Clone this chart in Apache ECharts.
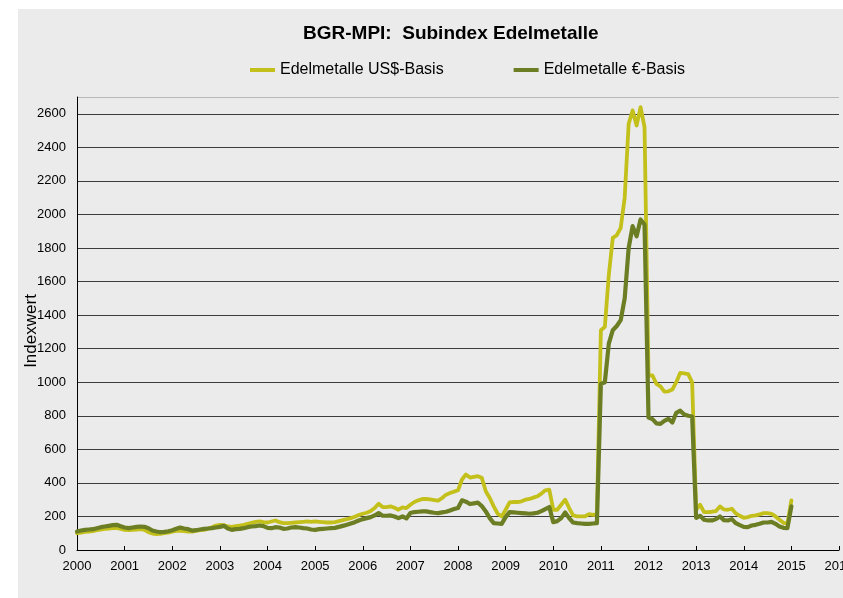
<!DOCTYPE html>
<html>
<head>
<meta charset="utf-8">
<script src="https://cdn.jsdelivr.net/npm/echarts@6/dist/echarts.min.js"></script>
<style>
html,body{margin:0;padding:0;background:#fff;}
#c{width:843px;height:598px;}
</style>
</head>
<body>
<div id="c"></div>
<script>
// Monthly values, Jan 2000 .. Jan 2015
const usd2000 = [100,104,108,110,112,118,122,126,128,130,132,126];
const usd2001 = [120,118,120,122,124,120,106,98,94,96,100,104];
const usd2002 = [110,114,116,112,110,110,114,118,120,126,136,146];
const usd2003 = [150,148,140,138,142,146,150,156,162,168,170,166];
const usd2004 = [164,170,176,166,160,160,162,164,166,168,170,168];
const usd2005 = [170,168,166,164,164,166,172,178,184,190,198,208];
const usd2006 = [216,222,232,250,276,256,256,260,252,240,254,250];
const usd2007 = [270,286,296,304,304,302,298,294,310,330,340,348];
const usd2008 = [356,420,450,432,436,440,430,350,310,260,216,200];
const usd2009 = [240,284,286,286,290,300,304,312,320,336,356,360];
const usd2010 = [240,240,270,300,250,206,200,200,200,214,210,210];
const usd2011 = [1310,1330,1640,1860,1876,1920,2100,2540,2620,2530,2640,2520];
const usd2012 = [1040,1040,990,975,944,946,956,1000,1056,1052,1048,1000];
const usd2013 = [240,270,226,226,228,232,260,242,240,246,218,204];
const usd2014 = [192,196,204,206,212,220,220,216,200,180,162,158];
const usd2015 = [296];

const eur2000 = [110,116,120,122,124,130,136,140,144,148,150,142];
const eur2001 = [134,130,134,138,140,138,130,116,110,106,108,112];
const eur2002 = [118,126,134,128,124,116,118,122,126,128,130,134];
const eur2003 = [138,144,128,120,124,126,130,136,140,142,146,142];
const eur2004 = [132,130,136,134,126,128,134,136,134,130,128,122];
const eur2005 = [120,124,126,128,130,132,138,144,150,158,166,176];
const eur2006 = [184,190,196,206,220,204,204,206,200,190,200,188];
const eur2007 = [220,226,228,230,230,226,222,220,224,228,236,244];
const eur2008 = [250,296,288,274,278,282,262,230,190,160,158,156];
const eur2009 = [196,226,224,222,220,218,216,218,222,232,244,256];
const eur2010 = [166,172,190,224,190,164,160,158,156,156,158,160];
const eur2011 = [990,1000,1230,1310,1335,1370,1500,1800,1930,1870,1970,1940];
const eur2012 = [790,780,755,752,770,782,760,818,830,808,800,796];
const eur2013 = [192,204,180,176,176,184,200,178,176,184,160,148];
const eur2014 = [138,136,146,150,156,164,164,168,156,140,132,130];
const eur2015 = [260];

const years = [2000,2001,2002,2003,2004,2005,2006,2007,2008,2009,2010,2011,2012,2013,2014,2015];
const yTicks = [0,200,400,600,800,1000,1200,1400,1600,1800,2000,2200,2400,2600];

const usdValues = [].concat(usd2000,usd2001,usd2002,usd2003,usd2004,usd2005,usd2006,usd2007,usd2008,usd2009,usd2010,usd2011,usd2012,usd2013,usd2014,usd2015);
const eurValues = [].concat(eur2000,eur2001,eur2002,eur2003,eur2004,eur2005,eur2006,eur2007,eur2008,eur2009,eur2010,eur2011,eur2012,eur2013,eur2014,eur2015);

// month categories as decimal-year positions
const months = [];
years.forEach(y => { for (let m = 0; m < 12; m++) { if (y === 2015 && m > 0) break; months.push(y + m / 12); } });

const usdData = months.map((t, i) => [t, usdValues[i]]);
const eurData = months.map((t, i) => [t, eurValues[i]]);

const gridColors = yTicks.map(() => '#3c3c3c').concat(['#b8b8b8']);
const FONT = 'Liberation Sans, Arial, sans-serif';

const chart = echarts.init(document.getElementById('c'), null, {renderer: 'canvas'});
chart.setOption({
  animation: false,
  backgroundColor: '#ffffff',
  textStyle: {fontFamily: FONT},
  graphic: {elements: [
    {type: 'rect', silent: true, z: -100, shape: {x: 18, y: 9, width: 825, height: 589}, style: {fill: '#ebebeb'}},
    {type: 'text', silent: true, x: 31, y: 331, rotation: Math.PI / 2,
     style: {text: 'Indexwert', fontSize: 17, fill: '#000', font: '17px ' + FONT, align: 'center', verticalAlign: 'middle'}}
  ]},
  title: {
    text: 'BGR-MPI:  Subindex Edelmetalle',
    left: 303, top: 24, padding: 0,
    textStyle: {fontSize: 19, fontWeight: 'bold', color: '#000', fontFamily: FONT}
  },
  legend: {
    left: 250, top: 62, padding: 0,
    itemWidth: 25, itemHeight: 4, itemGap: 70,
    icon: 'rect',
    textStyle: {fontSize: 16, color: '#000', fontFamily: FONT},
    data: ['Edelmetalle US$-Basis', 'Edelmetalle €-Basis']
  },
  grid: {left: 77, right: 4, top: 97, bottom: 48, containLabel: false, outerBoundsMode: 'none'},
  xAxis: {
    type: 'value', min: 2000, max: 2016, interval: 1,
    axisLine: {show: true, lineStyle: {color: '#000', width: 1}},
    axisTick: {show: true, inside: true, length: 4, lineStyle: {color: '#000'}},
    axisLabel: {margin: 10, fontSize: 13, color: '#000', formatter: v => String(v), showMaxLabel: true, hideOverlap: false},
    splitLine: {show: false}
  },
  yAxis: {
    type: 'value', min: 0, max: 2700, interval: 200,
    axisLine: {show: true, lineStyle: {color: '#000', width: 1}},
    axisTick: {show: false},
    axisLabel: {margin: 11, fontSize: 13, color: '#000', formatter: v => (yTicks.indexOf(v) >= 0 ? String(v) : '')},
    splitLine: {show: true, lineStyle: {color: gridColors, width: 1}}
  },
  series: [
    {name: 'Edelmetalle US$-Basis', type: 'line', data: usdData, showSymbol: false, symbol: 'none',
     color: '#c3c01c', lineStyle: {width: 3.8, color: '#c3c01c', cap: 'round', join: 'round'}},
    {name: 'Edelmetalle €-Basis', type: 'line', data: eurData, showSymbol: false, symbol: 'none',
     color: '#6c7e24', lineStyle: {width: 4.2, color: '#6c7e24', cap: 'round', join: 'round'}}
  ]
});
</script>
</body>
</html>
